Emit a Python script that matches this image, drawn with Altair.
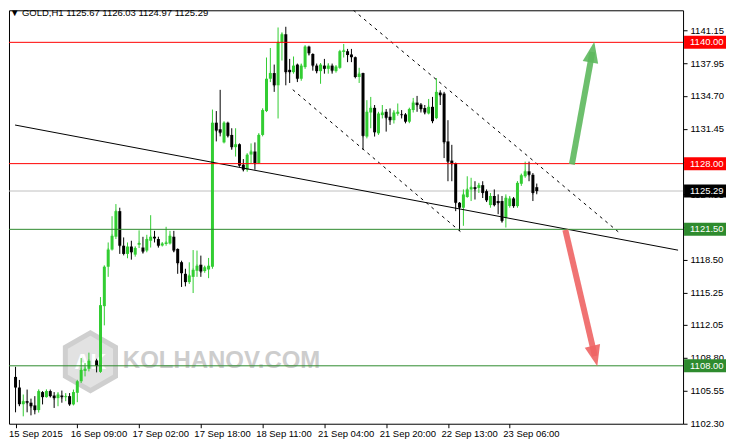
import json
import altair as alt
import pandas as pd

# ---------------- data ----------------
opens = [1106.9, 1105.85, 1104.2, 1104.5, 1104.35, 1104.08, 1103.62, 1105.4, 1104.9, 1105.5,
         1105.06, 1104.8, 1105.06, 1104.9, 1105.0, 1104.18, 1105.33, 1106.47, 1107.5, 1107.7,
         None, 1108.53, 1107.4, 1113.9, 1117.8, 1119.5, 1120.77, 1123.3, 1119.88, 1119.07,
         1119.8, 1119.0, 1119.98, 1119.7, 1119.4, 1120.37, 1120.77, 1120.54, 1119.9, 1120.05,
         1120.1, 1120.77, 1119.56, 1118.25, 1117.1, 1116.28, 1116.8, 1117.4, 1118.0, 1117.37,
         1117.53, 1117.8, 1132.05, 1131.4, 1130.1, 1132.05, 1130.84, 1129.63, 1129.92, 1127.9,
         1127.4, 1128.9, 1129.2, 1128.06, 1130.84, 1133.2, 1136.4, 1136.96, 1135.75, 1140.0,
         1140.8, 1137.28, 1137.05, 1137.8, 1136.4, 1137.55, 1139.58, 1138.85, 1137.7, 1137.15,
         1137.7, 1137.38, 1137.7, 1137.15, 1137.48, 1139.05, 1139.12, 1138.8, 1138.53, 1136.57,
         1136.96, 1130.68, 1133.06, 1133.52, 1131.0, 1132.8, 1133.13, 1132.64, 1132.3, 1132.93,
         1132.87, 1132.87, 1132.15, 1133.3, 1134.04, 1133.85, 1133.5, 1132.96, 1133.62, 1132.5,
         1135.03, 1134.93, 1130.2, 1128.3, 1128.06, 1124.13, 1123.64, 1124.7, 1125.45, 1125.67,
         1125.6, 1125.87, 1125.28, 1123.9, 1124.8, 1124.3, 1124.3, 1122.66, 1123.8, 1124.56,
         1123.8, 1126.0, 1126.75, 1127.24, 1126.9, 1125.67]
highs = [1107.9, 1106.6, 1105.16, 1105.65, 1104.75, 1105.0, 1105.65, 1105.5, 1105.65, 1105.65,
         1105.4, 1105.4, 1105.55, 1105.3, 1105.3, 1105.65, 1106.56, 1108.77, 1108.27, 1109.3,
         None, 1108.7, 1114.8, 1117.9, 1120.2, 1122.8, 1124.0, 1123.64, 1120.7, 1120.2,
         1120.37, 1119.8, 1121.4, 1120.76, 1120.96, 1122.9, 1121.35, 1120.77, 1120.2, 1121.75,
         1121.35, 1121.35, 1119.62, 1118.4, 1117.6, 1118.24, 1119.45, 1119.4, 1118.9, 1117.9,
         1118.67, 1133.35, 1133.2, 1135.3, 1132.15, 1132.15, 1131.5, 1131.5, 1130.0, 1128.45,
         1129.0, 1130.0, 1130.1, 1131.0, 1133.46, 1138.5, 1139.44, 1137.8, 1141.47, 1140.98,
         1141.54, 1138.36, 1138.6, 1137.9, 1137.9, 1139.67, 1139.67, 1138.92, 1137.9, 1137.94,
         1138.36, 1137.94, 1137.9, 1137.7, 1139.2, 1139.84, 1139.35, 1139.35, 1138.6, 1137.48,
         1137.0, 1134.28, 1134.6, 1133.8, 1133.13, 1133.8, 1133.4, 1133.46, 1133.3, 1133.95,
         1133.3, 1133.0, 1133.5, 1134.5, 1134.7, 1134.0, 1133.8, 1134.4, 1134.6, 1136.47,
         1135.26, 1135.1, 1132.3, 1129.86, 1128.1, 1124.2, 1125.45, 1126.75, 1126.6, 1126.26,
         1126.1, 1126.26, 1125.45, 1125.1, 1125.45, 1124.96, 1124.8, 1124.96, 1124.8, 1124.7,
         1126.26, 1127.0, 1128.2, 1128.2, 1127.07, 1126.03]
lows = [1103.4, 1104.0, 1103.0, 1103.4, 1103.1, 1103.2, 1103.37, 1104.18, 1104.85, 1104.9,
        1103.83, 1104.0, 1104.35, 1104.5, 1104.08, 1104.08, 1104.4, 1106.3, 1106.95, 1107.45,
        None, 1107.35, 1107.3, 1112.0, 1116.8, 1119.4, 1120.54, 1119.07, 1119.0, 1118.64,
        1118.5, 1118.8, 1119.65, 1119.1, 1119.23, 1119.7, 1120.2, 1119.7, 1119.8, 1119.88,
        1120.0, 1119.23, 1117.1, 1115.8, 1115.86, 1116.1, 1115.2, 1116.8, 1116.8, 1117.2,
        1116.67, 1117.6, 1130.2, 1130.7, 1130.0, 1130.6, 1129.37, 1128.7, 1127.73, 1127.24,
        1127.2, 1128.05, 1127.4, 1128.0, 1130.7, 1133.1, 1136.07, 1135.1, 1132.47, 1138.2,
        1135.75, 1135.98, 1136.9, 1136.07, 1136.2, 1137.38, 1138.7, 1137.2, 1136.93, 1135.9,
        1136.9, 1136.9, 1136.9, 1137.0, 1137.38, 1138.5, 1138.04, 1138.04, 1136.5, 1135.98,
        1129.37, 1130.5, 1131.5, 1130.68, 1130.84, 1132.47, 1131.17, 1131.83, 1131.97, 1132.74,
        1132.47, 1132.0, 1132.0, 1133.06, 1133.13, 1133.06, 1132.87, 1132.87, 1132.0, 1132.4,
        1133.8, 1128.55, 1126.26, 1126.26, 1123.3, 1121.35, 1121.85, 1124.62, 1124.3, 1124.45,
        1125.1, 1124.6, 1124.2, 1123.64, 1123.8, 1123.0, 1122.17, 1121.68, 1123.64, 1123.64,
        1123.64, 1125.8, 1126.6, 1126.26, 1124.3, 1124.97]
closes = [1105.85, 1104.2, 1104.5, 1104.35, 1104.0, 1103.62, 1105.5, 1104.9, 1105.5, 1105.0,
          1104.8, 1105.16, 1104.9, 1105.0, 1104.18, 1105.4, 1106.47, 1107.6, 1107.7, 1108.5,
          None, 1108.0, 1114.0, 1117.8, 1119.5, 1120.86, 1123.3, 1119.88, 1119.07, 1119.8,
          1119.23, 1119.65, 1120.15, 1119.3, 1120.54, 1120.77, 1120.6, 1119.88, 1120.1, 1120.2,
          1120.86, 1119.4, 1118.15, 1117.16, 1116.28, 1116.94, 1117.5, 1117.9, 1117.33, 1117.75,
          1117.9, 1132.05, 1131.27, 1131.07, 1132.05, 1130.75, 1129.63, 1129.92, 1127.8, 1127.4,
          1128.88, 1129.2, 1128.06, 1130.84, 1133.3, 1136.4, 1136.96, 1135.75, 1140.0, 1140.8,
          1137.05, 1137.05, 1137.7, 1136.4, 1137.7, 1139.58, 1138.92, 1137.7, 1137.15, 1137.8,
          1137.38, 1137.7, 1137.2, 1137.6, 1139.12, 1139.2, 1138.75, 1138.53, 1136.57, 1136.9,
          1130.75, 1133.13, 1133.52, 1131.1, 1132.96, 1133.06, 1132.54, 1132.3, 1133.06, 1133.13,
          1132.8, 1132.15, 1133.4, 1134.04, 1133.8, 1133.4, 1133.06, 1133.62, 1132.2, 1135.1,
          1134.77, 1130.12, 1128.2, 1128.0, 1124.13, 1123.64, 1124.95, 1125.45, 1125.67, 1125.5,
          1125.87, 1125.1, 1124.37, 1124.8, 1123.9, 1124.1, 1122.34, 1124.62, 1124.56, 1123.8,
          1126.1, 1126.85, 1127.24, 1126.9, 1125.1, 1125.29]

time_ticks = [0, 16, 32, 48, 64, 80, 96, 112, 128]
time_labels = ["15 Sep 2015", "16 Sep 09:00", "17 Sep 02:00", "17 Sep 18:00", "18 Sep 11:00",
               "21 Sep 04:00", "21 Sep 20:00", "22 Sep 13:00", "23 Sep 06:00"]
price_ticks = [1141.15, 1137.95, 1134.70, 1131.45, 1128.20, 1124.95, 1121.75,
               1118.50, 1115.25, 1112.05, 1108.80, 1105.55, 1102.30]

level_prices = [1140.00, 1128.00, 1121.50, 1108.00]
level_colors = ["#FF0000", "#FF0000", "#2E8B2E", "#2E8B2E"]
bid_price = 1125.29

trend_x = [-0.125, 171.6]
trend_y = [1131.82, 1119.44]
upper_x = [86.1, 156.1]
upper_y = [1143.63, 1121.26]
lower_x = [71.8, 115.9]
lower_y = [1135.32, 1121.06]

arrow_tail_x = [144.1, 142.4]
arrow_tail_y = [1127.93, 1121.45]
arrow_head_x = [149.4, 150.05]
arrow_head_y = [1139.04, 1108.96]
arrow_angle = [10.7, 166.5]
arrow_colors = ["#5DB85D", "#EE6464"]

title_text = "\u25bc GOLD,H1  1125.67 1126.03 1124.97 1125.29"
watermark_text = "KOLHANOV.COM"
logo_x, logo_y = [19.4], [1108.4]
watermark_x, watermark_y = [27.8], [1108.5]

# ---------------- tables ----------------
bull, bear = "#32CD32", "#000000"
rows = []
for i, (o, h, l, c) in enumerate(zip(opens, highs, lows, closes)):
    if o is None:
        continue
    rows.append({"i": i, "o": o, "h": h, "l": l, "c": c,
                 "col": bull if c >= o else bear})
candles = pd.DataFrame(rows)

levels = pd.DataFrame({"p": level_prices, "col": level_colors,
                       "txt": [f"{p:.2f}" for p in level_prices]})
boxes = pd.concat([levels, pd.DataFrame({"p": [bid_price], "col": ["#000000"],
                                         "txt": [f"{bid_price:.2f}"]})])

lines = pd.DataFrame({
    "x": trend_x + upper_x + lower_x,
    "y": trend_y + upper_y + lower_y,
    "k": ["t", "t", "u", "u", "l", "l"],
})
arrows = pd.DataFrame({"x": arrow_tail_x, "y": arrow_tail_y, "x2": arrow_head_x,
                       "y2": arrow_head_y, "a": arrow_angle, "col": arrow_colors})

W, H = 675, 414
FONT = "Liberation Sans"
xs = alt.Scale(domain=[-0.4, 171.6], nice=False, zero=False)
ys = alt.Scale(domain=[1102.27, 1143.17], nice=False, zero=False)

label_expr = ("[" + ",".join(json.dumps(t) for t in time_labels) + "][indexof("
              + json.dumps(time_ticks) + ", datum.value)]")
x_axis = alt.Axis(values=time_ticks, labelExpr=label_expr, title=None, grid=False,
                  domain=False, tickSize=4, tickColor="#000000", labelColor="#000000",
                  labelFont=FONT, labelFontSize=9.5, labelAlign="left", labelPadding=1,
                  labelOffset=-7, labelOverlap=False, labelFlush=False)
y_axis = alt.Axis(values=price_ticks, format=".2f", orient="right", title=None, grid=False,
                  domain=False, tickSize=4, tickColor="#000000", labelColor="#000000",
                  labelFont=FONT, labelFontSize=9.5, labelPadding=3, labelOverlap=False,
                  labelFlush=False)

def X(f):
    return alt.X(f, scale=xs, axis=x_axis)

def Y(f):
    return alt.Y(f, scale=ys, axis=y_axis)

# watermark
logo = alt.Chart(pd.DataFrame({"x": logo_x, "y": logo_y})).mark_point(
    shape="M0,-1L0.866,-0.5L0.866,0.5L0,1L-0.866,0.5L-0.866,-0.5Z",
    size=3364, filled=True, fill="#E2E2E2", stroke="#CFCFCF", strokeWidth=5, opacity=1
).encode(x=X("x:Q"), y=Y("y:Q"))
logo_txt = alt.Chart(pd.DataFrame({"x": logo_x, "y": logo_y, "t": ["AK"]})).mark_text(
    font=FONT, fontSize=22, fontWeight="bold", color="#FFFFFF", baseline="middle", align="center"
).encode(x=X("x:Q"), y=Y("y:Q"), text="t:N")
wm = alt.Chart(pd.DataFrame({"x": watermark_x, "y": watermark_y, "t": [watermark_text]})).mark_text(
    font=FONT, fontSize=24, fontWeight="bold", color="#CDCDCD", baseline="middle", align="left"
).encode(x=X("x:Q"), y=Y("y:Q"), text="t:N")

bid = alt.Chart(pd.DataFrame({"p": [bid_price]})).mark_rule(color="#C0C0C0", strokeWidth=1).encode(
    y=Y("p:Q"))

wicks = alt.Chart(candles).mark_rule(strokeWidth=1).encode(
    x=X("i:Q"), y=Y("l:Q"), y2="h:Q", color=alt.Color("col:N", scale=None))
bodies = alt.Chart(candles).mark_bar(size=3, strokeWidth=0).encode(
    x=X("i:Q"), y=Y("o:Q"), y2="c:Q", color=alt.Color("col:N", scale=None))
closes_tick = alt.Chart(candles).mark_tick(size=3, thickness=1).encode(
    x=X("i:Q"), y=Y("c:Q"), color=alt.Color("col:N", scale=None))

trend = alt.Chart(lines[lines.k == "t"]).mark_line(color="#000000", strokeWidth=1, clip=True).encode(
    x=X("x:Q"), y=Y("y:Q"))
chan = alt.Chart(lines[lines.k != "t"]).mark_line(color="#000000", strokeWidth=1, strokeDash=[3, 4],
                                                   clip=True).encode(
    x=X("x:Q"), y=Y("y:Q"), detail="k:N")

hlines = alt.Chart(levels).mark_rule(strokeWidth=1).encode(
    y=Y("p:Q"), color=alt.Color("col:N", scale=None))

shafts = alt.Chart(arrows).mark_rule(strokeWidth=6, opacity=0.9).encode(
    x=X("x:Q"), y=Y("y:Q"), x2="x2:Q", y2="y2:Q", color=alt.Color("col:N", scale=None))
heads = alt.Chart(arrows).mark_point(shape="M0,-1L0.75,1L-0.75,1Z", size=440, filled=True,
                                     opacity=0.9).encode(
    x=X("x2:Q"), y=Y("y2:Q"), angle=alt.Angle("a:Q", scale=None), color=alt.Color("col:N", scale=None))

box = alt.Chart(boxes).mark_tick(size=42, thickness=13, opacity=1).encode(
    x=alt.value(W + 22), y=Y("p:Q"), color=alt.Color("col:N", scale=None))
box_txt = alt.Chart(boxes).mark_text(font=FONT, fontSize=9.5, color="#FFFFFF", align="left",
                                     baseline="middle").encode(
    x=alt.value(W + 7), y=Y("p:Q"), text="txt:N")

header = alt.Chart(pd.DataFrame({"t": [title_text]})).mark_text(
    font=FONT, fontSize=9.5, color="#000000", align="left", baseline="middle"
).encode(x=alt.value(1), y=alt.value(3), text="t:N")

chart = alt.layer(
    logo, logo_txt, wm, bid, wicks, bodies, closes_tick, trend, chan, hlines, shafts, heads,
    box, box_txt, header
).properties(width=W, height=H, background="#FFFFFF", padding=0).configure_view(
    stroke="#000000", strokeWidth=1)

chart.save("out.html", embed_options={"renderer": "svg", "actions": False})
